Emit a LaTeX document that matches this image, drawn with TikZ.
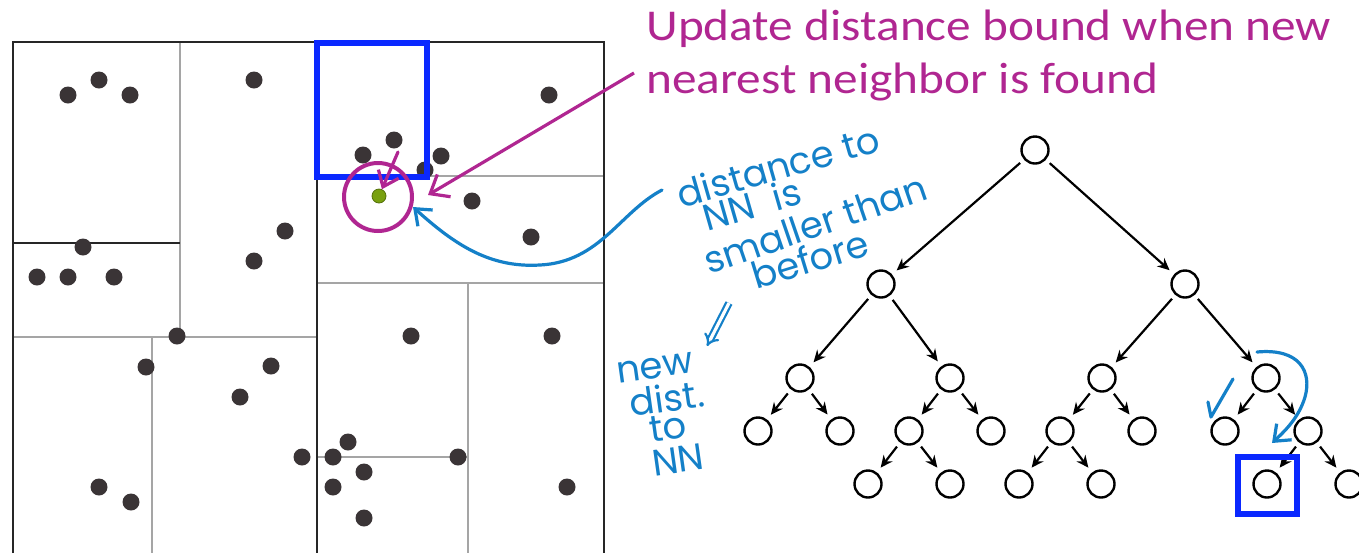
\documentclass[tikz,border=0pt]{standalone}
\usepackage{fontspec}
\setmainfont{Carlito}
\newfontfamily\hand{Poppins}
\usetikzlibrary{arrows.meta}
\definecolor{mag}{RGB}{176,38,145}
\definecolor{pen}{RGB}{20,128,200}
\definecolor{bbox}{RGB}{10,40,255}
\definecolor{dotc}{RGB}{58,52,54}
\definecolor{gridg}{RGB}{165,165,165}
\definecolor{nnc}{RGB}{120,160,15}
\begin{document}
\begin{tikzpicture}[x=0.5pt,y=-0.5pt,
  pt/.style={circle,fill=dotc,inner sep=0,minimum size=8.5pt},
  tn/.style={circle,draw=black,line width=1.2pt,inner sep=0,minimum size=13.5pt,fill=white},
  te/.style={-{Stealth[length=6pt,width=5.5pt]},line width=1.1pt,shorten >=3pt,shorten <=2.5pt},
  blk/.style={line width=1pt,draw=black!85},
  gry/.style={line width=1.3pt,draw=gridg},
  hw/.style={pen,font=\hand\fontsize{18.5}{20}\selectfont,inner sep=0},
  penline/.style={pen,line width=1.6pt,line cap=round,line join=round},
  magtxt/.style={mag,font=\fontsize{22}{26}\selectfont,inner sep=0,anchor=base west}
]
\useasboundingbox (0,0) rectangle (1359,553);
% --- left panel: partition lines
\draw[gry] (180,42) -- (180,337);
\draw[gry] (13,337) -- (317,337);
\draw[gry] (152,337) -- (152,553);
\draw[gry] (317,176) -- (604,176);
\draw[gry] (317,283) -- (604,283);
\draw[gry] (468,283) -- (468,553);
\draw[gry] (317,457) -- (468,457);
\draw[blk] (13,243) -- (180,243);
\draw[blk] (317,42) -- (317,553);
\draw[blk] (13,553) -- (13,42) -- (604,42) -- (604,553);
% --- points
\foreach \x/\y [count=\i] in {68/95,99/80,130/95,254/80,285/231,254/261,83/247,37/277,68/277,114/277,
  549/95,394/140,363/155,441/156,425/170,472/201,531/237,
  177/336,411/336,552/336,146/367,271/366,240/397,348/442,302/457,333/457,458/457,364/472,
  99/487,333/487,567/487,131/502,364/518}
  \node[pt] (p\i) at (\x,\y) {};
% query point
\node[circle,fill=nnc,draw=nnc!70!black,line width=0.4pt,inner sep=0,minimum size=7pt] (q) at (379,196) {};
% blue box (current leaf region)
\draw[bbox,line width=3pt] (317,43) rectangle (427,177);
% magenta circle
\node[circle,draw=mag,line width=2pt,inner sep=0,minimum size=34pt] (qc) at (378,197) {};
\coordinate (ms) at (398,152);
\draw[mag,line width=1.6pt,line cap=round,-{Straight Barb[length=7pt,width=11pt]}] (ms) -- (q);
% --- title
\node[magtxt] (t1) at (646,40) {\scalebox{1.12}[1]{Update distance bound when new}};
\node[magtxt] (t2) at (646,93) {\scalebox{1.12}[1]{nearest neighbor is found}};
\coordinate (ma) at (634,73);
\coordinate (mb) at (428,195);
\draw[mag,line width=1.6pt,-{Straight Barb[length=8pt,width=13pt]}] (ma) -- (mb);
% --- handwritten notes
\node[hw,rotate=16] (h1) at (778,166) {distance to};
\node[hw,rotate=16] (h2) at (752,204) {NN \ is};
\node[hw,rotate=19] (h3) at (815,224) {smaller than};
\node[hw,rotate=17] (h4) at (810,259) {before};
\node[hw,rotate=8] (n1) at (655,368) {new};
\node[hw,rotate=8] (n2) at (667,398) {dist.};
\node[hw,rotate=8] (n3) at (668,427) {to};
\node[hw,rotate=8] (n4) at (678,460) {NN};
\coordinate (ba) at (662,190);
\coordinate (bb) at (413,207);
\draw[penline,-{Straight Barb[length=7pt,width=11pt]}] (ba) .. controls (620,212) and (600,262) .. (540,265) .. controls (490,268) and (455,245) .. (bb);
\coordinate (da) at (729,303);
\coordinate (db) at (707,346);
\draw[pen,line width=1.1pt,double distance=1.6pt,-{Implies[length=7pt]}] (da) -- (db);
% --- tree
\node[tn] (r) at (1035,150) {};
\node[tn] (a) at (881,284) {};
\node[tn] (b) at (1185,284) {};
\node[tn] (aa) at (800,378) {};
\node[tn] (ab) at (950,378) {};
\node[tn] (ba1) at (1102,378) {};
\node[tn] (bb1) at (1266,378) {};
\node[tn] (aaa) at (758,431) {};
\node[tn] (aab) at (840,431) {};
\node[tn] (aba) at (909,431) {};
\node[tn] (abb) at (991,431) {};
\node[tn] (baa) at (1060,431) {};
\node[tn] (bab) at (1142,431) {};
\node[tn] (bba) at (1225,431) {};
\node[tn] (bbb) at (1308,431) {};
\node[tn] (abaa) at (868,484) {};
\node[tn] (abab) at (950,484) {};
\node[tn] (baaa) at (1019,484) {};
\node[tn] (baab) at (1101,484) {};
\node[tn] (bbba) at (1267,484) {};
\node[tn] (bbbb) at (1349,484) {};
\foreach \p/\c in {r/a,r/b,a/aa,a/ab,b/ba1,b/bb1,aa/aaa,aa/aab,ab/aba,ab/abb,ba1/baa,ba1/bab,bb1/bba,bb1/bbb,
  aba/abaa,aba/abab,baa/baaa,baa/baab,bbb/bbba,bbb/bbbb}
  \draw[te] (\p) -- (\c);
\draw[bbox,line width=3pt] (1238,457) rectangle (1297,514);
\coordinate (ca) at (1257,352);
\coordinate (cb) at (1272,443);
\draw[penline,-{Straight Barb[length=7pt,width=11pt]}] (ca) .. controls (1300,348) and (1312,372) .. (1305,397) .. controls (1299,417) and (1286,430) .. (cb);
\coordinate (k1) at (1208,402);
\coordinate (k2) at (1211,417);
\coordinate (k3) at (1233,379);
\draw[penline] (k1) -- (k2) -- (k3);
\end{tikzpicture}
\end{document}
